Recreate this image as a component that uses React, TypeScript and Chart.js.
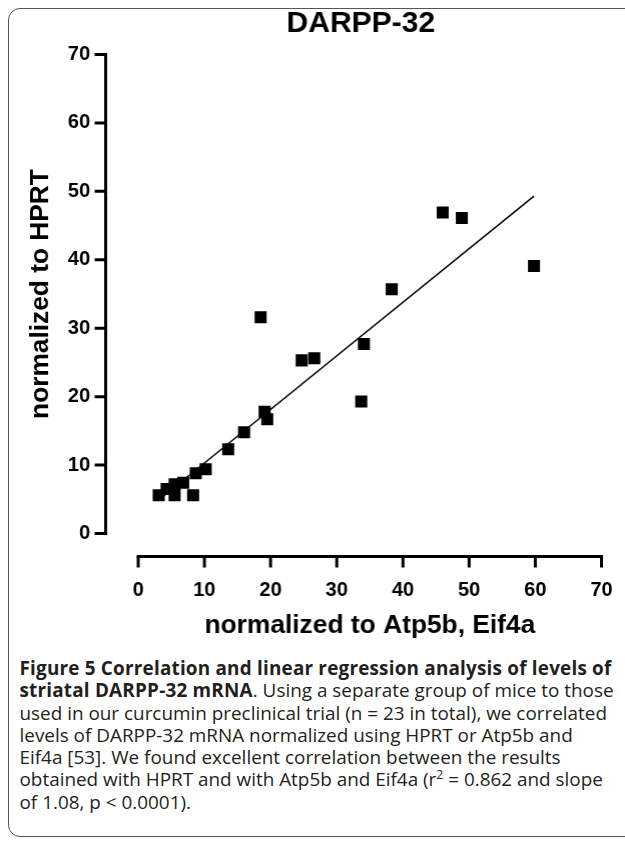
import React, { useEffect, useRef } from "react";
import { Chart, registerables } from "chart.js";

Chart.register(...registerables);

// ---- data ----
const chartTitle = "DARPP-32";
const xAxisTitle = "normalized to Atp5b, Eif4a";
const yAxisTitle = "normalized to HPRT";
const xTickValues = [0, 10, 20, 30, 40, 50, 60, 70];
const yTickValues = [0, 10, 20, 30, 40, 50, 60, 70];

// x: normalized to Atp5b, Eif4a ; y: normalized to HPRT
const atp5bEif4a = [3.1, 4.3, 5.5, 5.5, 6.8, 8.3, 8.7, 10.2, 13.6, 16.0, 19.1, 19.5, 18.5, 24.7, 26.6, 33.7, 34.1, 38.3, 46.0, 48.9, 59.8];
const hprt = [5.6, 6.5, 7.2, 5.6, 7.4, 5.6, 8.8, 9.4, 12.3, 14.8, 17.8, 16.7, 31.6, 25.3, 25.6, 19.3, 27.7, 35.7, 46.9, 46.1, 39.1];

// regression line end points
const fitX = [3.1, 59.8];
const fitY = [4.9, 49.3];

const captionBoldLead = "Figure 5 Correlation and linear regression analysis of levels of";
const captionBoldLead2 = "striatal DARPP-32 mRNA";

const FONT = "'Liberation Sans', Arial, sans-serif";

const offsetAxesPlugin = {
  id: "offsetAxes",
  afterDraw(chart: any) {
    const { ctx, chartArea, scales } = chart;
    const xs = scales.x;
    const ys = scales.y;
    ctx.save();
    // title
    ctx.fillStyle = "#000";
    ctx.font = `bold 30px ${FONT}`;
    ctx.textAlign = "center";
    ctx.textBaseline = "middle";
    ctx.fillText(chartTitle, (chartArea.left + chartArea.right) / 2 - 9, chartArea.top - 31);

    ctx.strokeStyle = "#000";
    ctx.lineWidth = 3;
    ctx.lineCap = "butt";
    // y axis
    const ax = chartArea.left - 32.5;
    const yTop = ys.getPixelForValue(yTickValues[yTickValues.length - 1]);
    const yBot = ys.getPixelForValue(yTickValues[0]);
    ctx.beginPath();
    ctx.moveTo(ax, yTop - 1.5);
    ctx.lineTo(ax, yBot + 1.5);
    ctx.stroke();
    ctx.beginPath();
    for (const t of yTickValues) {
      const py = ys.getPixelForValue(t);
      ctx.moveTo(ax - 11, py);
      ctx.lineTo(ax, py);
    }
    ctx.stroke();
    // x axis
    const ay = chartArea.bottom + 23;
    const xL = xs.getPixelForValue(xTickValues[0]);
    const xR = xs.getPixelForValue(xTickValues[xTickValues.length - 1]);
    ctx.beginPath();
    ctx.moveTo(xL - 1.5, ay);
    ctx.lineTo(xR + 1.5, ay);
    ctx.stroke();
    ctx.beginPath();
    for (const t of xTickValues) {
      const px = xs.getPixelForValue(t);
      ctx.moveTo(px, ay);
      ctx.lineTo(px, ay + 11);
    }
    ctx.stroke();
    ctx.restore();
  },
};

function ScatterChart() {
  const ref = useRef<HTMLCanvasElement | null>(null);
  useEffect(() => {
    if (!ref.current) return;
    const points = atp5bEif4a.map((x, i) => ({ x, y: hprt[i] }));
    const fit = fitX.map((x, i) => ({ x, y: fitY[i] }));
    const chart = new Chart(ref.current, {
      type: "scatter",
      data: {
        datasets: [
          {
            type: "line",
            data: fit,
            borderColor: "#000",
            borderWidth: 1.5,
            pointRadius: 0,
            showLine: true,
            fill: false,
            order: 2,
          } as any,
          {
            data: points,
            backgroundColor: "#000",
            borderWidth: 0,
            pointStyle: "rect",
            pointRadius: 8.5,
            order: 1,
          },
        ],
      },
      options: {
        animation: false,
        responsive: true,
        maintainAspectRatio: false,
        layout: { padding: { left: 0, right: 24, top: 45.5, bottom: 0 } },
        plugins: {
          legend: { display: false },
          tooltip: { enabled: false },
          title: { display: false },
        },
        scales: {
          x: {
            type: "linear",
            min: 0,
            max: 70,
            afterBuildTicks: (s: any) => {
              s.ticks = xTickValues.map((v) => ({ value: v }));
            },
            afterFit: (s: any) => {
              s.height = 123.5;
              s.paddingLeft = 12;
              s.paddingRight = 12;
            },
            border: { display: false },
            grid: { display: false, drawTicks: false },
            ticks: {
              color: "#000",
              padding: 45,
              font: { family: FONT, size: 20, weight: "bold" },
              maxRotation: 0,
            },
            title: {
              display: true,
              text: xAxisTitle,
              color: "#000",
              font: { family: FONT, size: 26.3, weight: "bold", lineHeight: 1.2 },
              padding: { top: 0, bottom: 15.5 },
            },
          },
          y: {
            type: "linear",
            min: 0,
            max: 70,
            afterBuildTicks: (s: any) => {
              s.ticks = yTickValues.map((v) => ({ value: v }));
            },
            afterFit: (s: any) => {
              s.width = 129;
              s.paddingTop = 12;
              s.paddingBottom = 12;
            },
            border: { display: false },
            grid: { display: false, drawTicks: false },
            ticks: {
              color: "#000",
              padding: 48,
              font: { family: FONT, size: 20, weight: "bold" },
            },
            title: {
              display: true,
              text: yAxisTitle,
              color: "#000",
              font: { family: FONT, size: 26.3, weight: "bold", lineHeight: 1.2 },
              padding: { top: 16, bottom: 0 },
            },
          },
        },
      },
      plugins: [offsetAxesPlugin],
    });
    return () => chart.destroy();
  }, []);
  return (
    <div style={{ position: "relative", width: 615.5, height: 648 }}>
      <canvas ref={ref} />
    </div>
  );
}

export default function App() {
  const line: React.CSSProperties = { whiteSpace: "nowrap" };
  const bold: React.CSSProperties = { letterSpacing: "0.2px" };
  return (
    <>
      <style>{`html { overflow: hidden; }`}</style>
      <div
        style={{
          position: "absolute",
          left: 8,
          top: 8,
          width: 660,
          height: 829,
          boxSizing: "border-box",
          border: "1.5px solid #555",
          borderRadius: "12px 0 0 12px",
        }}
      >
        <ScatterChart />
        <div
          style={{
            width: 615,
            overflow: "hidden",
            paddingLeft: 10.5,
            boxSizing: "border-box",
            fontFamily: "'Open Sans', sans-serif",
            fontSize: 18.9,
            lineHeight: "22.3px",
            color: "#231f20",
          }}
        >
          <div style={line}>
            <b style={bold}>{captionBoldLead}</b>
          </div>
          <div style={line}>
            <b style={bold}>{captionBoldLead2}</b>. Using a separate group of mice to those
          </div>
          <div style={line}>used in our curcumin preclinical trial (n = 23 in total), we correlated</div>
          <div style={line}>levels of DARPP-32 mRNA normalized using HPRT or Atp5b and</div>
          <div style={line}>Eif4a [53]. We found excellent correlation between the results</div>
          <div style={line}>
            obtained with HPRT and with Atp5b and Eif4a (r
            <sup style={{ fontSize: "0.65em", lineHeight: 0 }}>2</sup> = 0.862 and slope
          </div>
          <div style={line}>of 1.08, p &lt; 0.0001).</div>
        </div>
      </div>
    </>
  );
}
